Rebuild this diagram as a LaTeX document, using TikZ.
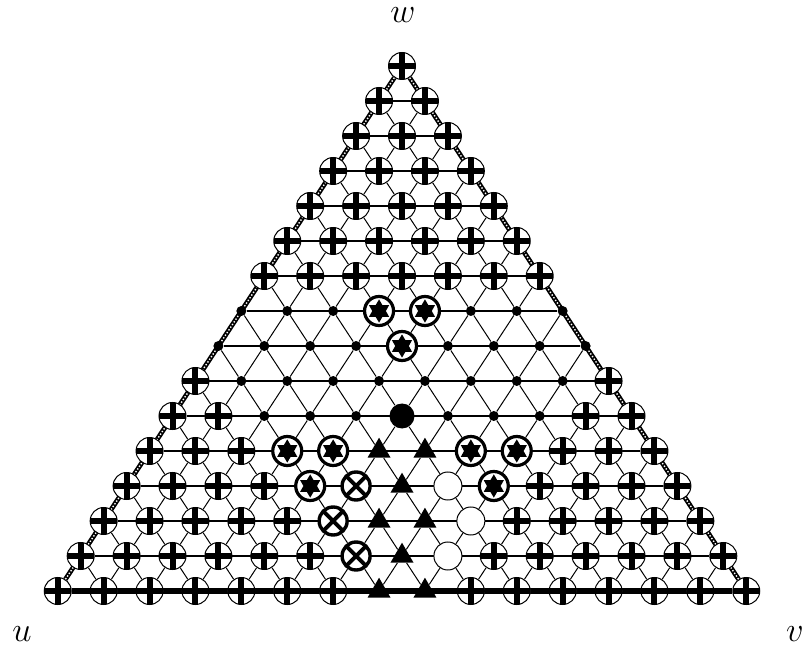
\documentclass[tikz,border=0pt]{standalone}
\usetikzlibrary{shapes.geometric}
\pgfdeclarelayer{bg}
\pgfsetlayers{bg,main}
\tikzset{
  tyP/.style={circle, draw, line width=0.5pt, fill=white, minimum size=13.5pt, inner sep=0pt,
    path picture={\draw[black, line width=3pt] (path picture bounding box.north) -- (path picture bounding box.south)
      (path picture bounding box.west) -- (path picture bounding box.east);}},
  tyD/.style={circle, fill=black, minimum size=5pt, inner sep=0pt},
  tyB/.style={circle, fill=black, minimum size=12.5pt, inner sep=0pt},
  tyS/.style={circle, draw, line width=1.6pt, fill=white, minimum size=14.5pt, inner sep=0pt,
    path picture={\fill[black] (path picture bounding box.center)
      +(90:5.8pt)--+(120:3.4pt)--+(150:5.8pt)--+(180:3.4pt)--+(210:5.8pt)--+(240:3.4pt)--+(270:5.8pt)--+(300:3.4pt)--+(330:5.8pt)--+(0:3.4pt)--+(30:5.8pt)--+(60:3.4pt)--cycle;}},
  tyX/.style={circle, draw, line width=1.7pt, fill=white, minimum size=14pt, inner sep=0pt,
    path picture={\draw[black, line width=1.9pt] (path picture bounding box.south west) -- (path picture bounding box.north east)
      (path picture bounding box.north west) -- (path picture bounding box.south east);}},
  tyO/.style={circle, draw, line width=0.5pt, fill=white, minimum size=14pt, inner sep=0pt},
  tyT/.style={regular polygon, regular polygon sides=3, fill=black, minimum size=13.3pt, inner sep=0pt},
  diag/.style={line width=0.5pt},
  horiz/.style={line width=0.7pt},
  bottomline/.style={line width=3pt},
  sideblack/.style={line width=2.4pt},
  sidewhite/.style={white, line width=0.7pt, dash pattern=on 0.7pt off 0.9pt},
  lbl/.style={font=\fontsize{17.28pt}{20pt}\selectfont, inner sep=0pt}
}
\newcommand\placerow[2]{%
  \foreach \t [count=\k from 0] in {#2} {%
    \node[ty\t] (n-#1-\k) at ({402+(\k-#1/2)*45.9},{66+#1*35}) {};
  }%
}
\begin{document}
\begin{tikzpicture}[x=0.5pt,y=-0.5pt]
\useasboundingbox (0,0) rectangle (808,657);
\placerow{0}{P}
\placerow{1}{P,P}
\placerow{2}{P,P,P}
\placerow{3}{P,P,P,P}
\placerow{4}{P,P,P,P,P}
\placerow{5}{P,P,P,P,P,P}
\placerow{6}{P,P,P,P,P,P,P}
\placerow{7}{D,D,D,S,S,D,D,D}
\placerow{8}{D,D,D,D,S,D,D,D,D}
\placerow{9}{P,D,D,D,D,D,D,D,D,P}
\placerow{10}{P,P,D,D,D,B,D,D,D,P,P}
\placerow{11}{P,P,P,S,S,T,T,S,S,P,P,P}
\placerow{12}{P,P,P,P,S,X,T,O,S,P,P,P,P}
\placerow{13}{P,P,P,P,P,X,T,T,O,P,P,P,P,P}
\placerow{14}{P,P,P,P,P,P,X,T,O,P,P,P,P,P,P}
\placerow{15}{P,P,P,P,P,P,P,T,T,P,P,P,P,P,P,P}
\begin{pgfonlayer}{bg}
  \foreach \r in {0,...,14} {
    \pgfmathtruncatemacro\rn{\r+1}
    \foreach \k in {0,...,\r} {
      \pgfmathtruncatemacro\kn{\k+1}
      \ifnum\k>0 \draw[diag] (n-\r-\k) -- (n-\rn-\k); \fi
      \ifnum\k<\r \draw[diag] (n-\r-\k) -- (n-\rn-\kn); \fi
    }
  }
  \foreach \r in {1,...,14} {
    \draw[horiz] (n-\r-0) -- (n-\r-\r);
  }
  \draw[bottomline] (n-15-0) -- (n-15-15);
  \draw[sideblack] (n-0-0) -- (n-15-0);
  \draw[sideblack] (n-0-0) -- (n-15-15);
  \draw[sidewhite] (n-0-0) -- (n-15-0);
  \draw[sidewhite] (n-0-0) -- (n-15-15);
\end{pgfonlayer}
\node[lbl] (w) at (403,15) {$w$};
\node[lbl] (u) at (22,634) {$u$};
\node[lbl] (v) at (795,634) {$v$};
\end{tikzpicture}
\end{document}
